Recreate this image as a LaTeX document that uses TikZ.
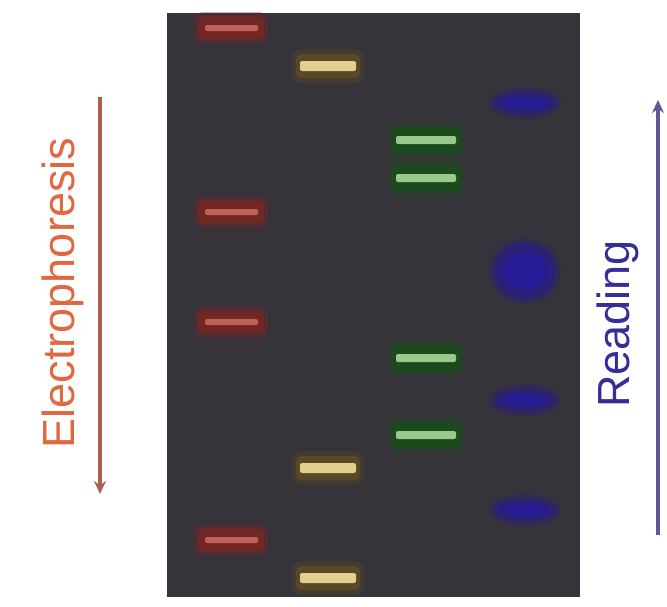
\documentclass[tikz,border=0pt]{standalone}
\usepackage{fontspec}
\setmainfont{Liberation Sans}
\usetikzlibrary{arrows.meta}

\definecolor{gelgray}{RGB}{54,51,59}
\definecolor{redglow}{RGB}{125,38,34}
\definecolor{redcore}{RGB}{190,98,88}
\definecolor{yelglow}{RGB}{92,76,36}
\definecolor{yelcore}{RGB}{226,206,142}
\definecolor{grnglow}{RGB}{24,78,24}
\definecolor{grncore}{RGB}{152,200,140}
\definecolor{bluglow}{RGB}{40,30,130}
\definecolor{blucore}{RGB}{38,26,150}
\definecolor{elecred}{RGB}{224,104,62}
\definecolor{elecline}{RGB}{170,98,78}
\definecolor{readblue}{RGB}{52,46,150}
\definecolor{readline}{RGB}{92,90,144}

\tikzset{
  halo/.style={rounded corners=9pt, opacity=0.35},
  glow/.style={rounded corners=6pt, opacity=0.8},
  core/.style={rounded corners=2pt},
  lbl/.style={rotate=90, font=\fontsize{45}{50}\selectfont},
  runarrow/.style={line width=3.5pt, -{Stealth[length=13pt,width=12pt]}}
}

\begin{document}
\begin{tikzpicture}[x=1pt,y=-1pt]
  \useasboundingbox (0,0) rectangle (667,606);

  % Gel
  \fill[gelgray] (167,13) rectangle (580,597);

  % Lane 1 (red)
  \foreach \y in {28,212,322,540}{
    \fill[halo, redglow] (194,\y-16) rectangle (268,\y+16);
    \fill[glow, redglow] (198,\y-11) rectangle (264,\y+11);
    \fill[core, redcore] (205,\y-3) rectangle (258,\y+3);
  }

  % Lane 2 (yellow)
  \foreach \y in {66,468,578}{
    \fill[halo, yelglow] (292,\y-17) rectangle (364,\y+17);
    \fill[glow, yelglow] (296,\y-12) rectangle (360,\y+12);
    \fill[core, yelcore] (300,\y-5) rectangle (356,\y+5);
  }

  % Lane 3 (green)
  \foreach \y in {140,178,358,435}{
    \fill[halo, grnglow] (388,\y-18) rectangle (464,\y+18);
    \fill[glow, grnglow] (392,\y-13) rectangle (460,\y+13);
    \fill[core, grncore] (396,\y-4) rectangle (456,\y+4);
  }

  % Lane 4 (blue)
  \foreach \y in {103,400,510}{
    \fill[bluglow, opacity=0.35] (525,\y) ellipse (36 and 16);
    \fill[bluglow, opacity=0.8] (525,\y) ellipse (31 and 11);
    \fill[blucore] (525,\y) ellipse (22 and 5);
  }
  \fill[bluglow, opacity=0.35] (525,271) ellipse (36 and 33);
  \fill[bluglow, opacity=0.8] (525,271) ellipse (31 and 28);
  \fill[blucore] (525,271) ellipse (22 and 18);

  % Electrophoresis
  \coordinate (etop) at (100,97);
  \coordinate (ebot) at (100,494);
  \draw[runarrow, elecline] (etop) -- (ebot);
  \node[lbl, text=elecred] (elec) at (63,293) {Electrophoresis};

  % Reading
  \coordinate (rbot) at (658,535);
  \coordinate (rtop) at (658,100);
  \draw[runarrow, readline] (rbot) -- (rtop);
  \node[lbl, text=readblue] (read) at (618,324) {Reading};
\end{tikzpicture}
\end{document}
